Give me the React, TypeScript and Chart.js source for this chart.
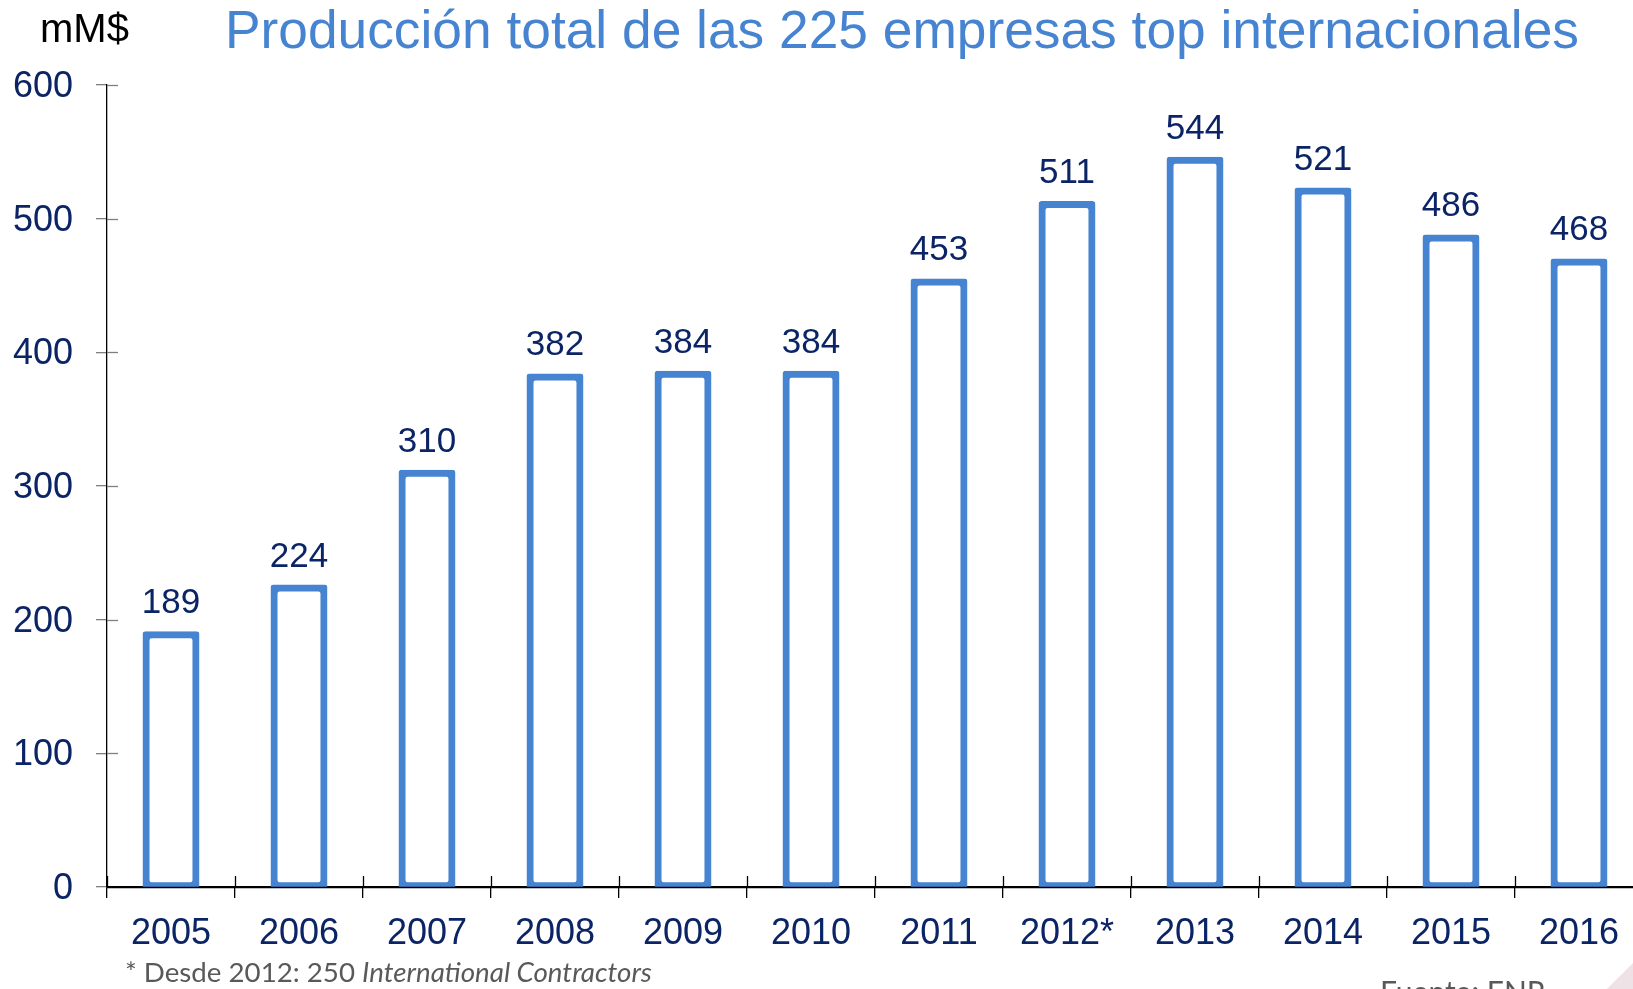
import React, { useEffect, useRef } from "react";
import { Chart, registerables } from "chart.js";

Chart.register(...registerables);

const years = ["2005", "2006", "2007", "2008", "2009", "2010", "2011", "2012*", "2013", "2014", "2015", "2016"];
const production = [189, 224, 310, 382, 384, 384, 453, 511, 544, 521, 486, 468];
const yMin = 0;
const yMax = 600;
const yStep = 100;

const titleText = "Producción total de las 225 empresas top internacionales";
const unitText = "mM$";
const noteText = "* Desde 2012: 250 ";
const noteItalic = "International Contractors";
const sourceText = "Fuente: ENR";

const FONT = '"Liberation Sans", Arial, sans-serif';
const BLUE = "#4683D1";
const NAVY = "#0B2466";

const valueLabels = {
  id: "valueLabels",
  afterDatasetsDraw(chart: any) {
    const ctx = chart.ctx;
    const meta = chart.getDatasetMeta(0);
    ctx.save();
    ctx.font = `35px ${FONT}`;
    ctx.fillStyle = NAVY;
    ctx.textAlign = "center";
    ctx.textBaseline = "alphabetic";
    meta.data.forEach((el: any, i: number) => {
      ctx.fillText(String(production[i]), el.x, el.y - 21);
    });
    ctx.restore();
  },
};

const innerTicks = {
  id: "innerTicks",
  afterDraw(chart: any) {
    const ctx = chart.ctx;
    const xs = chart.scales.x;
    const ys = chart.scales.y;
    const area = chart.chartArea;
    ctx.save();
    ctx.lineWidth = 1.3;
    ctx.strokeStyle = "#7f7f7f";
    ys.ticks.forEach((t: any) => {
      if (t.value === 0) return;
      const y = Math.round(ys.getPixelForValue(t.value)) + 0.5;
      ctx.beginPath();
      ctx.moveTo(area.left, y);
      ctx.lineTo(area.left + 11, y);
      ctx.stroke();
    });
    ctx.strokeStyle = "#000";
    for (let i = 0; i <= years.length; i++) {
      const x = Math.round(xs.getPixelForValue(i - 0.5)) + 0.5;
      ctx.beginPath();
      ctx.moveTo(x, area.bottom);
      ctx.lineTo(x, area.bottom - 11);
      ctx.stroke();
    }
    ctx.beginPath();
    ctx.moveTo(area.left, area.bottom + 0.5);
    ctx.lineTo(area.right, area.bottom + 0.5);
    ctx.stroke();
    ctx.restore();
  },
};

export default function App() {
  const ref = useRef<HTMLCanvasElement | null>(null);

  useEffect(() => {
    if (!ref.current) return;
    const chart = new Chart(ref.current, {
      type: "bar",
      data: {
        labels: years,
        datasets: [
          {
            data: production,
            backgroundColor: "rgba(255,255,255,0)",
            borderColor: BLUE,
            borderWidth: 1,
            borderSkipped: false,
            borderRadius: 3,
            inflateAmount: 3,
            barPercentage: 0.398,
            categoryPercentage: 1,
          },
        ],
      },
      options: {
        responsive: false,
        animation: false,
        layout: { padding: { top: 85, right: 0, bottom: 0, left: 0 } },
        plugins: {
          legend: { display: false },
          tooltip: { enabled: false },
        },
        scales: {
          x: {
            afterFit: (s: any) => {
              s.height = 102;
            },
            border: { display: true, color: "#000", width: 1.3 },
            grid: {
              display: true,
              drawOnChartArea: false,
              drawTicks: true,
              tickLength: 11,
              color: "#000",
              lineWidth: 1.3,
              offset: true,
            },
            ticks: {
              font: { family: FONT, size: 36 },
              color: NAVY,
              padding: 14,
              maxRotation: 0,
              autoSkip: false,
            },
          },
          y: {
            min: yMin,
            max: yMax,
            afterFit: (s: any) => {
              s.width = 107;
            },
            border: { display: true, color: "#000", width: 1.3 },
            grid: {
              display: true,
              drawOnChartArea: false,
              drawTicks: true,
              tickLength: 11,
              color: "#7f7f7f",
              lineWidth: 1.3,
            },
            ticks: {
              stepSize: yStep,
              font: { family: FONT, size: 36 },
              color: NAVY,
              padding: 23,
              labelOffset: 2,
            },
          },
        },
      },
      plugins: [valueLabels, innerTicks],
    });
    return () => chart.destroy();
  }, []);

  return (
    <div
      style={{
        position: "fixed",
        left: 0,
        top: 0,
        width: "100vw",
        height: "100vh",
        overflow: "hidden",
        background: "#fff",
      }}
    >
      <canvas
        ref={ref}
        width={1643}
        height={989}
        style={{ position: "absolute", left: 0, top: 0, width: 1643, height: 989, display: "block" }}
      />
      <div
        style={{
          position: "absolute",
          left: 225,
          top: 3,
          fontFamily: FONT,
          fontSize: 53.3,
          lineHeight: 1,
          color: BLUE,
          whiteSpace: "nowrap",
        }}
      >
        {titleText}
      </div>
      <div
        style={{
          position: "absolute",
          left: 40,
          top: 8,
          fontFamily: FONT,
          fontSize: 40,
          lineHeight: 1,
          color: "#000",
          whiteSpace: "nowrap",
        }}
      >
        {unitText}
      </div>
      <div
        style={{
          position: "absolute",
          left: 125,
          top: 958,
          fontFamily: "Lato, sans-serif",
          fontSize: 27.7,
          lineHeight: 1,
          color: "#595959",
          whiteSpace: "nowrap",
        }}
      >
        {noteText}
        <i>{noteItalic}</i>
      </div>
      <div
        style={{
          position: "absolute",
          left: 1380,
          top: 976,
          fontFamily: "Lato, sans-serif",
          fontSize: 30,
          lineHeight: 1,
          color: "#595959",
          whiteSpace: "nowrap",
        }}
      >
        {sourceText}
      </div>
      <div
        style={{
          position: "absolute",
          left: 1560,
          top: 940,
          width: 73,
          height: 49,
          background: "#efe2e6",
          clipPath: "polygon(100% 47%, 100% 100%, 64% 100%)",
        }}
      />
    </div>
  );
}
